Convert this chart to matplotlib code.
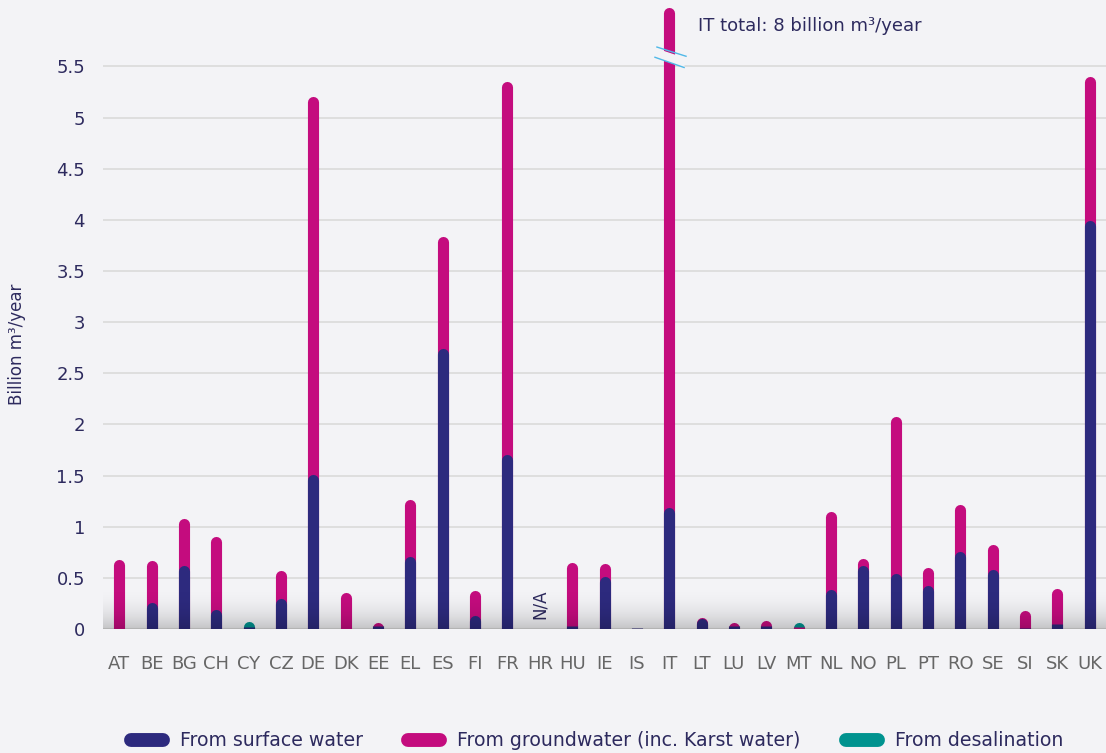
import numpy as np
import matplotlib.pyplot as plt
from matplotlib.lines import Line2D

# Datos (mil millones m3/año)
paises = ['AT', 'BE', 'BG', 'CH', 'CY', 'CZ', 'DE', 'DK', 'EE', 'EL', 'ES', 'FI', 'FR', 'HR',
          'HU', 'IE', 'IS', 'IT', 'LT', 'LU', 'LV', 'MT', 'NL', 'NO', 'PL', 'PT', 'RO', 'SE',
          'SI', 'SK', 'UK']
superficial = [0.0, 0.25, 0.61, 0.18, 0.02, 0.29, 1.50, 0.0, 0.03, 0.70, 2.73, 0.12, 1.70, 0.0,
               0.03, 0.50, 0.01, 1.18, 0.09, 0.03, 0.03, 0.0, 0.38, 0.61, 0.53, 0.42, 0.75, 0.57,
               0.01, 0.05, 3.99]
subterranea = [0.67, 0.41, 0.46, 0.72, 0.0, 0.27, 3.70, 0.35, 0.02, 0.56, 1.10, 0.25, 3.64, 0.0,
               0.61, 0.13, 0.03, 6.82, 0.01, 0.02, 0.04, 0.02, 0.76, 0.07, 1.54, 0.17, 0.46, 0.25,
               0.16, 0.34, 1.40]
desalinizacion = [0, 0, 0, 0, 0.04, 0, 0, 0, 0, 0, 0, 0, 0, 0,
                  0, 0, 0, 0, 0, 0, 0, 0.03, 0, 0, 0, 0, 0, 0,
                  0, 0, 0]
sin_datos = ['HR']
it_total = 8
tope_eje = 6.15
tope_barra = 6.07

azul = '#2d2a7e'
rosa = '#c40c7e'
verde = '#00938f'
fondo = '#f3f3f6'
texto = '#2d2a5e'

x = np.arange(len(paises))
sup = np.array(superficial)
sub = np.array(subterranea)
des = np.array(desalinizacion)

fig = plt.figure(figsize=(11.06, 7.53), dpi=100, facecolor=fondo)
ax = fig.add_axes([103 / 1106, 124 / 753, 1003 / 1106, 629 / 753])
ax.set_facecolor(fondo)

ax.set_xlim(-0.5, len(paises) - 0.5)
ax.set_ylim(0, tope_eje)
ax.set_yticks(np.arange(0, 5.51, 0.5))
ax.set_yticklabels(['0', '0.5', '1', '1.5', '2', '2.5', '3', '3.5', '4', '4.5', '5', '5.5'])
ax.grid(axis='y', color='#dadada', linewidth=1.2, zorder=0)
ax.set_axisbelow(True)
for s in ax.spines.values():
    s.set_visible(False)

ax.set_xticks(x)
ax.set_xticklabels(paises)
ax.tick_params(axis='x', length=0, pad=19, labelsize=13, labelcolor='#666666')
ax.tick_params(axis='y', length=0, pad=13, labelsize=13, labelcolor=texto)
ax.set_ylabel('Billion m³/year', fontsize=12, color=texto)
ax.yaxis.set_label_coords(-0.077, 0.453)

# Barras con extremos redondeados (el remate redondo sobresale ~r)
ancho = 8
r = 0.045


def alto(v):
    return max(v - r, 0.004)


for i in range(len(paises)):
    total = min(sup[i] + sub[i] + des[i], tope_barra)
    gw = min(sup[i] + sub[i], tope_barra)
    if des[i] > 0:
        ax.plot([x[i], x[i]], [0, alto(total)], color=verde, lw=ancho,
                solid_capstyle='round', zorder=2)
        if sub[i] > 0:
            ax.plot([x[i], x[i]], [0, gw], color=rosa, lw=ancho,
                    solid_capstyle='butt', zorder=3)
    elif sub[i] > 0:
        ax.plot([x[i], x[i]], [0, alto(gw)], color=rosa, lw=ancho,
                solid_capstyle='round', zorder=3)
    if sup[i] > 0:
        if sup[i] >= 0.08:
            ax.plot([x[i], x[i]], [0, alto(sup[i])], color=azul, lw=ancho,
                    solid_capstyle='round', zorder=4)
        else:
            ax.plot([x[i], x[i]], [0, sup[i]], color=azul, lw=ancho,
                    solid_capstyle='butt', zorder=4)

# N/A
for p in sin_datos:
    ax.text(paises.index(p), 0.1, 'N/A', rotation=90, ha='center', va='bottom',
            fontsize=12, color=texto)

# Corte de la barra de IT
i_it = paises.index('IT')
ax.fill([i_it - 0.4, i_it + 0.45, i_it + 0.45, i_it - 0.4],
        [5.67, 5.58, 5.50, 5.59], color=fondo, zorder=6)
ax.plot([i_it - 0.38, i_it + 0.52], [5.69, 5.60], color='#4fb8e8', lw=1, zorder=7)
ax.plot([i_it - 0.44, i_it + 0.46], [5.59, 5.49], color='#4fb8e8', lw=1, zorder=7)
ax.text(i_it + 0.9, 5.9, f'IT total: {it_total} billion m³/year', fontsize=13,
        color=texto, va='center', ha='left')

# Sombra inferior
t = np.linspace(0, 1, 200)
sombra = np.zeros((200, 1, 4))
sombra[:, 0, 3] = 0.2 * t ** 2.5
ax.imshow(sombra, extent=(-0.5, len(paises) - 0.5, 0, 0.45), aspect='auto',
          origin='upper', zorder=8, interpolation='bilinear')
ax.set_xlim(-0.5, len(paises) - 0.5)
ax.set_ylim(0, tope_eje)

# Leyenda
manejadores = [Line2D([], [], color=azul, lw=10, solid_capstyle='round'),
               Line2D([], [], color=rosa, lw=10, solid_capstyle='round'),
               Line2D([], [], color=verde, lw=10, solid_capstyle='round')]
etiquetas = ['From surface water', 'From groundwater (inc. Karst water)', 'From desalination']
ley = fig.legend(manejadores, etiquetas, loc='center', bbox_to_anchor=(0.54, 0.016),
                 ncol=3, frameon=False, fontsize=13.6, handlelength=1.7,
                 handletextpad=0.9, columnspacing=2.4)
for tx in ley.get_texts():
    tx.set_color(texto)

plt.savefig('out.png', dpi=100, facecolor=fondo)
